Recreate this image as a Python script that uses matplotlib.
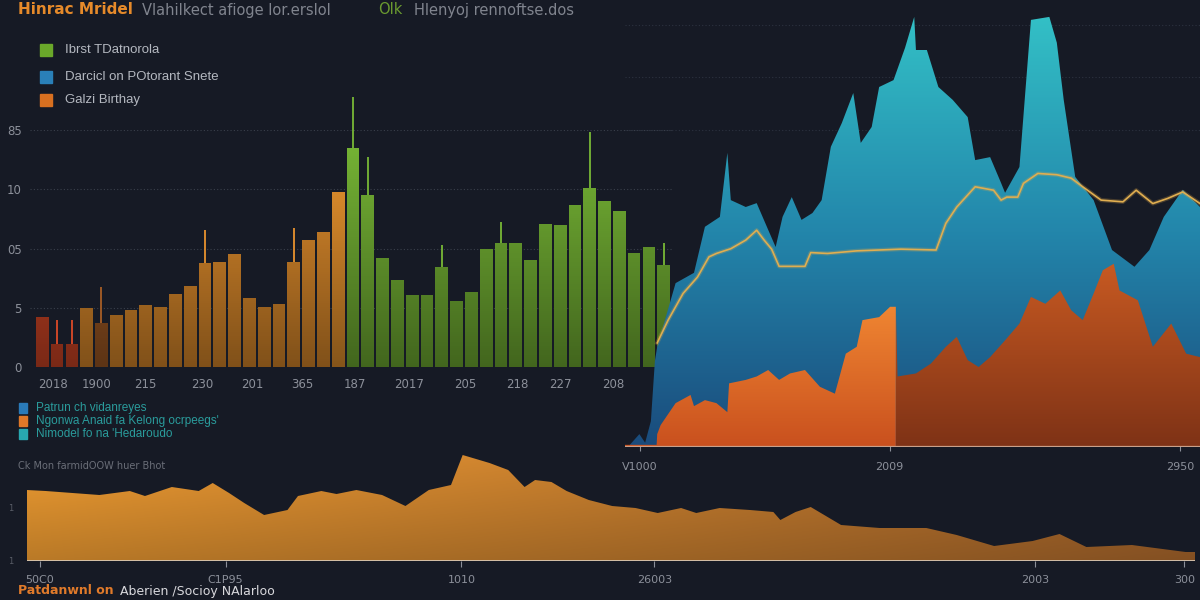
import numpy as np
import matplotlib
matplotlib.use("Agg")
import matplotlib.pyplot as plt
from matplotlib.colors import LinearSegmentedColormap, to_rgb
from matplotlib.patches import PathPatch, Rectangle
from matplotlib.path import Path

# ---------------- data ----------------
warm_vals = [4.2, 1.9, 1.9, 5.0, 3.7, 4.4, 4.8, 5.2, 5.1, 6.2, 6.8,
             8.8, 8.9, 9.5, 5.8, 5.1, 5.3, 8.9, 10.7, 11.4, 14.8]
green_vals = [18.5, 14.5, 9.2, 7.3, 6.1, 6.1, 8.4, 5.6, 6.3, 10.0, 10.5,
              10.5, 9.0, 12.1, 12.0, 13.7, 15.1, 14.0, 13.2, 9.6, 10.1, 8.6]
spike_idx = [1, 2, 4, 11, 17, 21, 22, 27, 31, 37, 42]
spike_top = [4.0, 4.0, 6.75, 11.6, 11.7, 22.8, 17.7, 10.3, 12.2, 19.8, 10.5]
bar_ticks = [0.72, 3.7, 6.94, 10.8, 14.2, 17.6, 21.1, 24.8, 28.6, 32.1, 35.0, 38.6]
bar_labels = ["2018", "1900", "215", "230", "201", "365", "187", "2017",
              "205", "218", "227", "208"]
bar_yticks = [0, 5, 10, 15, 20]
bar_ylabels = ["0", "5", "05", "10", "85"]

teal_x = [0.5, 2.5, 3.5, 4.5, 5.2, 5.6, 8.8, 12.0, 13.9, 16.5, 17.8, 18.4, 21.0, 22.9,
          24.9, 26.2, 27.4, 29.0, 30.7, 32.6, 34.2, 35.8, 37.7, 39.7, 41.0, 42.9,
          44.2, 46.7, 48.7, 50.3, 50.6, 52.5, 54.5, 57.0, 59.6, 60.9, 63.5, 65.4,
          66.1, 68.6, 70.6, 73.8, 75.1, 76.3, 78.3, 81.5, 84.7, 88.6, 91.2, 93.7,
          97.0, 100]
teal_y = [0, 3, 1, 6, 20, 23.3, 38.1, 40.5, 51.2, 53.5, 68.4, 57.4, 55.8, 56.7,
          50.5, 46.5, 53.5, 58.1, 52.8, 54.4, 57.4, 69.8, 75.3, 82.3, 70.7, 74.4,
          83.7, 85.3, 92.8, 100, 92.3, 92.3, 83.7, 80.7, 76.7, 66.7, 67.4, 61.4,
          59.1, 65.1, 99.3, 100, 94, 80.7, 62.8, 57.4, 45.8, 41.9, 45.8, 53.5,
          59.8, 55.8]
orange_x = [0, 5.5, 5.6, 6.2, 8.8, 11.4, 12.0, 13.9, 15.9, 17.8, 18.1, 21.0, 22.9,
            24.9, 26.8, 28.7, 31.3, 33.9, 36.5, 38.4, 40.3, 41.3, 44.2, 46.1, 47.1,
            47.4, 50.6, 53.2, 55.8, 57.7, 59.6, 61.5, 63.5, 66.1, 68.6, 70.6, 73.1,
            75.7, 77.6, 79.6, 81.5, 83.1, 85.0, 86.0, 89.2, 91.8, 95.0, 97.6, 100]
orange_y = [0.5, 0.5, 3.0, 5.1, 10.2, 12.1, 9.5, 10.9, 10.2, 8.1, 14.8, 15.6, 16.4,
            17.9, 15.6, 17.1, 17.9, 14.0, 12.4, 21.7, 23.3, 29.5, 30.2, 32.6, 32.6,
            16.4, 17.1, 19.4, 23.3, 25.6, 20.2, 18.6, 20.9, 24.8, 28.7, 34.9, 33.3,
            36.4, 31.8, 29.5, 35.7, 41.1, 42.6, 36.4, 34.1, 23.3, 28.7, 21.7, 20.9]
gold_x = [5.6, 7.5, 10.1, 12.6, 14.6, 15.9, 18.4, 21.0, 22.9, 24.2, 25.5, 26.8, 29.4,
          31.3, 32.3, 35.2, 40.3, 48.0, 54.1, 55.8, 57.7, 60.9, 64.1, 65.4, 66.4,
          68.3, 69.3, 71.8, 75.1, 77.6, 79.6, 82.8, 86.6, 88.9, 91.8, 94.4, 97.0, 100]
gold_y = [24.2, 29.5, 35.7, 39.5, 44.2, 45.0, 46.1, 48.1, 50.4, 48.1, 46.0, 42.0, 42.0,
          42.0, 45.2, 45.0, 45.6, 46.0, 45.8, 52.0, 55.8, 60.5, 59.7, 57.4, 58.1,
          58.1, 61.3, 63.6, 63.3, 62.5, 60.5, 57.4, 57.0, 59.7, 56.6, 57.8, 59.3, 56.6]
right_ticks = [2.6, 46.0, 96.5]
right_labels = ["V1000", "2009", "2950"]

bottom_x = [0, 1.6, 6.2, 8.8, 10.1, 12.4, 14.7, 15.9, 17.3, 18.6, 20.3, 22.3, 23.2,
            25.2, 26.5, 28.2, 30.4, 32.4, 34.4, 36.3, 37.3, 39.6, 41.2, 42.6, 43.5,
            44.9, 46.2, 48.1, 50.1, 52.1, 54.0, 56.0, 57.3, 59.3, 61.9, 63.9, 64.5,
            65.8, 67.1, 69.7, 73.0, 77.0, 79.6, 82.8, 86.1, 88.4, 90.7, 94.6, 99.2, 100]
bottom_y = [71, 70, 66, 70, 65, 74, 70, 78, 68, 58, 46, 51, 65, 70, 67, 71, 66, 55,
            71, 76, 106, 98, 91, 74, 81, 79, 70, 61, 55, 53, 48, 53, 48, 53, 51, 49,
            41, 49, 54, 36, 33, 33, 26, 15, 20, 27, 14, 16, 9, 9]
bottom_ticks = [1.1, 17.0, 37.2, 53.7, 86.3, 99.1]
bottom_labels = ["50C0", "C1P95", "1010", "26003", "2003", "300"]

BG = "#161a25"
TICK = "#8c909a"


def grad_fill(ax, x, y, colors, ymax, z):
    coll = ax.fill_between(x, 0, y, lw=0, color="none")
    path = coll.get_paths()[0]
    coll.remove()
    patch = PathPatch(path, transform=ax.transData, fc="none", ec="none")
    ax.add_patch(patch)
    cmap = LinearSegmentedColormap.from_list("g", colors)
    img = ax.imshow(np.linspace(0, 1, 256).reshape(-1, 1), cmap=cmap, origin="lower",
                    aspect="auto", extent=[min(x), max(x), 0, ymax], zorder=z)
    img.set_clip_path(patch)


fig = plt.figure(figsize=(12, 6), dpi=100, facecolor=BG)

# ---------------- bar panel ----------------
ax1 = fig.add_axes([30 / 1200, 1 - 367 / 600, 642 / 1200, 237 / 600])
ax1.set_facecolor("none")
vals = warm_vals + green_vals
idx = np.arange(len(vals))
cols = []
for i in range(len(vals)):
    if i < 3:
        cols.append("#dc4a28")
    elif i == 4:
        cols.append("#a85e26")
    elif i < len(warm_vals):
        cols.append("#e8922e")
    else:
        cols.append("#78b836")
cols[20] = "#f29a30"
bars = ax1.bar(idx, vals, width=0.86, color=cols, zorder=3)
ax1.vlines(spike_idx, 0, spike_top, color=[cols[i] for i in spike_idx], lw=1.3,
           zorder=2, clip_on=False)
# darker toward the base
paths = [b.get_path().transformed(b.get_patch_transform()) for b in bars]
cpatch = PathPatch(Path.make_compound_path(*paths), transform=ax1.transData,
                   fc="none", ec="none")
ax1.add_patch(cpatch)
shade = np.zeros((256, 1, 4))
shade[:, 0, 3] = np.linspace(0.45, 0.0, 256)
im = ax1.imshow(shade, origin="lower", aspect="auto", extent=[-1, 43, 0, 20], zorder=4)
im.set_clip_path(cpatch)
ax1.set_xlim(-0.83, 42.56)
ax1.set_ylim(0, 20)
ax1.set_yticks(bar_yticks, bar_ylabels)
ax1.set_xticks(bar_ticks, bar_labels)
ax1.tick_params(length=0, colors=TICK, labelsize=8.5)
ax1.tick_params(axis="x", pad=8)
ax1.tick_params(axis="y", pad=6)
ax1.yaxis.grid(True, color="#3a404c", ls=(0, (1, 2)), lw=0.8)
ax1.set_axisbelow(True)
for s in ax1.spines.values():
    s.set_visible(False)

# ---------------- right area panel ----------------
ax2 = fig.add_axes([625 / 1200, 1 - 447 / 600, 575 / 1200, 437 / 600])
ax2.set_facecolor("none")
for gy in [98, 86, 73.7]:
    ax2.axhline(gy, color="#2c3240", ls=(0, (1, 2)), lw=0.8, zorder=1)
grad_fill(ax2, teal_x, teal_y, ["#1a4b7c", "#2386ab", "#33c0c6"], 100, 2)
split = orange_x.index(47.1) + 1
grad_fill(ax2, orange_x[:split], orange_y[:split], ["#c9501e", "#f08632"], 33, 3)
grad_fill(ax2, orange_x[split - 1:], orange_y[split - 1:], ["#7e3216", "#c85a22"], 43, 3)
ax2.plot(gold_x, gold_y, color="#e0a84a", lw=3, alpha=0.25, zorder=4)
ax2.plot(gold_x, gold_y, color="#e0ae50", lw=1.2, zorder=5)
ax2.axhline(0, color="#c9a08a", lw=1.6, zorder=6)
ax2.set_xlim(0, 100)
ax2.set_ylim(0, 101.6)
ax2.set_xticks(right_ticks, right_labels)
ax2.set_yticks([])
ax2.tick_params(axis="x", colors=TICK, labelsize=8, direction="inout", length=6, pad=8)
for s in ax2.spines.values():
    s.set_visible(False)

# ---------------- bottom area panel ----------------
ax3 = fig.add_axes([27 / 1200, 1 - 561 / 600, 1168 / 1200, 112 / 600])
ax3.set_facecolor("none")
coll = ax3.fill_between(bottom_x, 0, bottom_y, lw=0, color="none")
bpath = coll.get_paths()[0]
coll.remove()
bpatch = PathPatch(bpath, transform=ax3.transData, fc="none", ec="none")
ax3.add_patch(bpatch)
left_c = np.array(to_rgb("#ee9c32"))
right_c = np.array(to_rgb("#a8662c"))
s = np.linspace(0, 1, 300)
t = np.linspace(0, 1, 120)
rgb = left_c[None, None, :] * (1 - s[None, :, None]) + right_c[None, None, :] * s[None, :, None]
rgb = rgb * (0.78 + 0.22 * t[:, None, None])
img = ax3.imshow(np.clip(rgb, 0, 1), origin="lower", aspect="auto",
                 extent=[0, 100, 0, 106], zorder=2)
img.set_clip_path(bpatch)
ax3.axhline(0, color="#d8c8b4", lw=2, zorder=3)
ax3.set_xlim(0, 100)
ax3.set_ylim(0, 112)
ax3.set_xticks(bottom_ticks, bottom_labels)
ax3.set_yticks([0, 54], ["1", "1"])
ax3.tick_params(axis="x", colors=TICK, labelsize=8, length=4, pad=6)
ax3.tick_params(axis="y", colors="#5a5e68", labelsize=6, length=0, pad=10)
for sp in ax3.spines.values():
    sp.set_visible(False)

# ---------------- texts ----------------
fig.text(18 / 1200, 1 - 10 / 600, "Hinrac Mridel", color="#e68a2a", fontsize=11,
         fontweight="bold", va="center")
fig.text(142 / 1200, 1 - 10 / 600, "Vlahilkect afioge lor.erslol", color="#80848e",
         fontsize=10.5, va="center")
fig.text(378 / 1200, 1 - 10 / 600, "Olk", color="#6a9a30", fontsize=10.5, va="center")
fig.text(414 / 1200, 1 - 10 / 600, "Hlenyoj rennoftse.dos", color="#80848e",
         fontsize=10.5, va="center")

legend_items = [("Ibrst TDatnorola", "#6aa82a", 50),
                ("Darcicl on POtorant Snete", "#2a80b8", 77),
                ("Galzi Birthay", "#d87020", 100)]
for label, c, py in legend_items:
    fig.add_artist(Rectangle((40 / 1200, 1 - (py + 6) / 600), 12 / 1200, 12 / 600,
                             transform=fig.transFigure, color=c))
    fig.text(65 / 1200, 1 - py / 600, label, color="#b4b8c0", fontsize=9.5,
             family="Liberation Sans", va="center")

sub_items = [("Patrun ch vidanreyes", "#2a7ab8", 408),
             ("Ngonwa Anaid fa Kelong ocrpeegs'", "#e07828", 421),
             ("Nimodel fo na 'Hedaroudo", "#28a8b0", 434)]
for label, c, py in sub_items:
    fig.add_artist(Rectangle((19 / 1200, 1 - (py + 5) / 600), 8 / 1200, 10 / 600,
                             transform=fig.transFigure, color=c))
    fig.text(36 / 1200, 1 - py / 600, label, color="#2a9c9c", fontsize=8.5,
             family="Liberation Sans", va="center")

fig.text(18 / 1200, 1 - 466 / 600, "Ck Mon farmidOOW huer Bhot", color="#6a6e78",
         fontsize=7, va="center")
fig.text(18 / 1200, 1 - 591 / 600, "Patdanwnl on", color="#e07a2a", fontsize=9,
         fontweight="bold", va="center")
fig.text(120 / 1200, 1 - 591 / 600, "Aberien /Socioy NAlarloo", color="#d8d8dc",
         fontsize=9, va="center")

fig.savefig("out.png", dpi=100, facecolor=BG)
